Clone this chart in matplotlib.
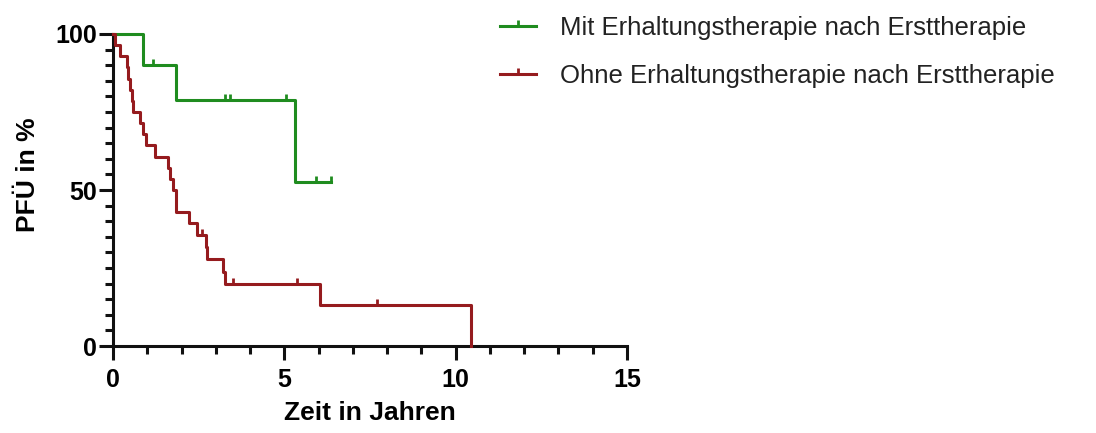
import matplotlib
matplotlib.use("Agg")
import matplotlib.pyplot as plt
from matplotlib.path import Path
from matplotlib.ticker import MultipleLocator

plt.rcParams['font.family'] = ['Liberation Sans', 'DejaVu Sans']

# Kaplan-Meier steps (years, PFS %)
mit_t = [0.0, 0.87, 1.84, 5.31, 6.35]
mit_s = [100.0, 90.0, 78.75, 52.5, 52.5]
mit_cens_t = [1.16, 3.27, 3.41, 5.06, 5.92, 6.35]
mit_cens_s = [90.0, 78.75, 78.75, 78.75, 52.5, 52.5]

ohne_t = [0.0, 0.05, 0.2, 0.4, 0.45, 0.5, 0.55, 0.57, 0.78, 0.87, 0.97,
          1.22, 1.61, 1.67, 1.74, 1.85, 2.22, 2.44, 2.70, 2.74, 3.20, 3.27,
          6.05, 10.46]
ohne_s = [100.0, 96.4, 92.9, 89.3, 85.7, 82.1, 78.6, 75.0, 71.4, 67.9, 64.3,
          60.7, 57.1, 53.6, 50.0, 42.9, 39.3, 35.7, 31.7, 27.8, 23.8, 19.8,
          13.2, 0.0]
ohne_cens_t = [2.59, 3.51, 5.36, 7.69]
ohne_cens_s = [35.7, 19.8, 19.8, 13.2]

labels = ["Mit Erhaltungstherapie nach Ersttherapie",
          "Ohne Erhaltungstherapie nach Ersttherapie"]
colors = ["#1f8c1f", "#951b1e"]

# upward censor tick
tick_up = Path([(0, 0), (0, 1)])

fig = plt.figure(figsize=(10.96, 4.33), dpi=100)
ax = fig.add_axes([0.1031, 0.2009, 0.469, 0.7206])

series = [(mit_t, mit_s, mit_cens_t, mit_cens_s),
          (ohne_t, ohne_s, ohne_cens_t, ohne_cens_s)]
for (t, s, ct, cs), col, lab in zip(series, colors, labels):
    ax.step(t, s, where='post', color=col, lw=2.2, clip_on=False, zorder=3)
    ax.plot(ct, cs, ls='none', marker=tick_up, ms=8, mew=2.0, color=col,
            clip_on=False, zorder=3)
    # legend proxy
    ax.plot([], [], color=col, lw=2.2, marker=tick_up, ms=8, mew=2.0, label=lab)

ax.set_xlim(0, 15)
ax.set_ylim(0, 100)
ax.xaxis.set_major_locator(MultipleLocator(5))
ax.xaxis.set_minor_locator(MultipleLocator(1))
ax.yaxis.set_major_locator(MultipleLocator(50))
ax.yaxis.set_minor_locator(MultipleLocator(5))

for side in ['top', 'right']:
    ax.spines[side].set_visible(False)
for side in ['left', 'bottom']:
    ax.spines[side].set_linewidth(2.2)
    ax.spines[side].set_color('#111111')

ax.tick_params(which='major', length=10, width=2.2, color='#111111',
               labelsize=18)
ax.tick_params(which='minor', length=6, width=2.2, color='#111111')
ax.tick_params(axis='x', which='major', pad=6)
ax.tick_params(axis='y', which='major', pad=1.5)
for lbl in ax.get_xticklabels() + ax.get_yticklabels():
    lbl.set_fontweight('bold')

ax.set_xlabel("Zeit in Jahren", fontsize=19, fontweight='bold')
ax.set_ylabel("PFÜ in %", fontsize=19, fontweight='bold')
ax.xaxis.set_label_coords(0.5, -0.175)
ax.yaxis.set_label_coords(-0.142, 0.55)

fig.legend(loc='upper left', bbox_to_anchor=(0.456, 0.962), frameon=False,
           fontsize=18.5, handlelength=1.4, handletextpad=0.95,
           labelspacing=0.9, borderpad=0, borderaxespad=0, numpoints=1,
           labelcolor='#222222')

fig.savefig("out.png", dpi=100)
